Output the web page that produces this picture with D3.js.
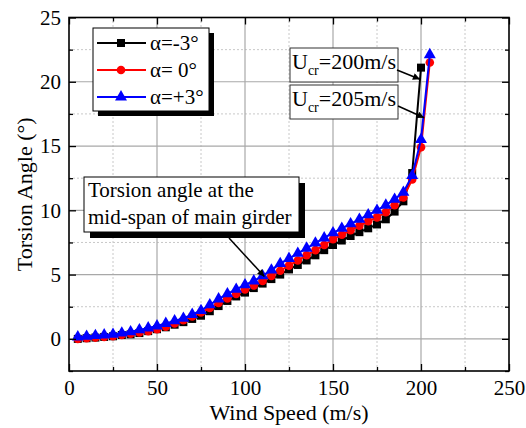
<!DOCTYPE html>
<html>
<head>
<meta charset="utf-8">
<script src="https://cdn.jsdelivr.net/npm/d3@7"></script>
<style>
  html, body { margin: 0; padding: 0; background: #fff; }
  svg { display: block; }
  svg text { font-family: 'Liberation Serif', 'Times New Roman', serif; fill: #000; }
</style>
</head>
<body>
<svg id="chart" width="526" height="428"></svg>
<script>
// Wind speed (m/s) sampled every 5 m/s
const speedsLong = [5,10,15,20,25,30,35,40,45,50,55,60,65,70,75,80,85,90,95,100,
  105,110,115,120,125,130,135,140,145,150,155,160,165,170,175,180,185,190,195,200,205];
const speedsShort = speedsLong.slice(0, 40); // α=-3° stops at 200 m/s

// Torsion angle (°) at mid-span of the main girder
const angleMinus3 = [0.0,0.05,0.1,0.15,0.2,0.3,0.35,0.45,0.6,0.75,0.9,1.1,1.3,1.55,1.8,2.15,2.55,2.95,3.3,3.6,
  3.95,4.3,4.65,5.0,5.4,5.75,6.1,6.5,6.9,7.3,7.65,8.0,8.3,8.6,8.9,9.3,9.9,10.7,12.9,21.1];
const angleZero = [0.0,0.05,0.1,0.15,0.2,0.3,0.4,0.5,0.6,0.75,0.95,1.2,1.45,1.75,2.05,2.4,2.8,3.15,3.5,3.85,
  4.15,4.5,4.9,5.3,5.7,6.1,6.5,6.9,7.3,7.75,8.1,8.45,8.8,9.15,9.45,9.85,10.4,11.0,12.4,14.9,21.5];
const anglePlus3 = [0.15,0.2,0.25,0.3,0.35,0.45,0.55,0.7,0.85,1.0,1.2,1.4,1.6,1.9,2.2,2.65,3.1,3.5,3.85,4.2,
  4.5,4.9,5.35,5.85,6.25,6.65,7.05,7.45,7.85,8.25,8.6,8.95,9.3,9.65,10.0,10.4,10.85,11.4,12.7,15.5,22.1];

const seriesNames = ["α=-3°", "α= 0°", "α=+3°"];
const xTicks = [0, 50, 100, 150, 200, 250];
const xMinor = [25, 75, 125, 175, 225];
const yTicks = [0, 5, 10, 15, 20, 25];
const yMinor = [-2.5, 2.5, 7.5, 12.5, 17.5, 22.5];

const series = [
  { name: seriesNames[0], xs: speedsShort, ys: angleMinus3, color: "#000000", shape: d3.symbolSquare, size: 64 },
  { name: seriesNames[1], xs: speedsLong, ys: angleZero, color: "#ff0000", shape: d3.symbolCircle, size: 58 },
  { name: seriesNames[2], xs: speedsLong, ys: anglePlus3, color: "#0000ff", shape: d3.symbolTriangle, size: 62 }
];

const svg = d3.select("#chart");
const margin = { left: 69, right: 17, top: 17.5, bottom: 57 };
const W = 526, H = 428;
const x = d3.scaleLinear().domain([0, 250]).range([margin.left, W - margin.right]);
const y = d3.scaleLinear().domain([-2.5, 25]).range([H - margin.bottom, margin.top]);

// grid
const grid = svg.append("g");
grid.selectAll(".gxm").data(xMinor).join("line")
  .attr("x1", d => x(d)).attr("x2", d => x(d)).attr("y1", y.range()[0]).attr("y2", y.range()[1])
  .attr("stroke", "#c8c8c8").attr("stroke-width", 1).attr("stroke-dasharray", "2,2");
grid.selectAll(".gym").data(yMinor.slice(1)).join("line")
  .attr("y1", d => y(d)).attr("y2", d => y(d)).attr("x1", x.range()[0]).attr("x2", x.range()[1])
  .attr("stroke", "#c8c8c8").attr("stroke-width", 1).attr("stroke-dasharray", "2,2");
grid.selectAll(".gx").data(xTicks.slice(1, -1)).join("line")
  .attr("x1", d => x(d)).attr("x2", d => x(d)).attr("y1", y.range()[0]).attr("y2", y.range()[1])
  .attr("stroke", "#a8a8a8").attr("stroke-width", 1.2);
grid.selectAll(".gy").data(yTicks.slice(0, -1)).join("line")
  .attr("y1", d => y(d)).attr("y2", d => y(d)).attr("x1", x.range()[0]).attr("x2", x.range()[1])
  .attr("stroke", "#a8a8a8").attr("stroke-width", 1.2);

// series lines and markers
series.forEach(s => {
  const pts = s.xs.map((v, i) => [v, s.ys[i]]);
  svg.append("path").datum(pts)
    .attr("fill", "none").attr("stroke", s.color).attr("stroke-width", 2)
    .attr("d", d3.line().x(d => x(d[0])).y(d => y(d[1])));
  svg.append("g").selectAll("path").data(pts).join("path")
    .attr("transform", d => `translate(${x(d[0])},${y(d[1])})`)
    .attr("d", d3.symbol().type(s.shape).size(s.size))
    .attr("fill", s.color);
});

// axes
const fontSize = 21;
function styleAxis(g) {
  g.attr("font-family", null).attr("font-size", null);
  g.select(".domain").remove();
  g.selectAll("line").attr("stroke", "#000").attr("stroke-width", 1.3);
  g.selectAll("text").attr("font-size", fontSize).attr("fill", "#000");
}
const xb = y.range()[0], xt = y.range()[1], yl = x.range()[0], yr = x.range()[1];
svg.append("g").attr("transform", `translate(0,${xb})`)
  .call(d3.axisBottom(x).tickValues(xTicks).tickSize(-7).tickPadding(9).tickFormat(d3.format("d")))
  .call(styleAxis);
svg.append("g").attr("transform", `translate(0,${xb})`)
  .call(d3.axisBottom(x).tickValues(xMinor).tickSize(-4).tickFormat("")).call(styleAxis);
svg.append("g").attr("transform", `translate(0,${xt})`)
  .call(d3.axisTop(x).tickValues(xTicks).tickSize(-7).tickFormat("")).call(styleAxis);
svg.append("g").attr("transform", `translate(0,${xt})`)
  .call(d3.axisTop(x).tickValues(xMinor).tickSize(-4).tickFormat("")).call(styleAxis);
svg.append("g").attr("transform", `translate(${yl},0)`)
  .call(d3.axisLeft(y).tickValues(yTicks).tickSize(-7).tickPadding(8).tickFormat(d3.format("d")))
  .call(styleAxis);
svg.append("g").attr("transform", `translate(${yl},0)`)
  .call(d3.axisLeft(y).tickValues(yMinor).tickSize(-4).tickFormat("")).call(styleAxis);
svg.append("g").attr("transform", `translate(${yr},0)`)
  .call(d3.axisRight(y).tickValues(yTicks).tickSize(-7).tickFormat("")).call(styleAxis);
svg.append("g").attr("transform", `translate(${yr},0)`)
  .call(d3.axisRight(y).tickValues(yMinor).tickSize(-4).tickFormat("")).call(styleAxis);

// frame
svg.append("rect")
  .attr("x", yl).attr("y", xt).attr("width", yr - yl).attr("height", xb - xt)
  .attr("fill", "none").attr("stroke", "#000").attr("stroke-width", 1.6);

// axis titles
svg.append("text").attr("x", (yl + yr) / 2).attr("y", 420)
  .attr("text-anchor", "middle").attr("font-size", 22).text("Wind Speed (m/s)");
svg.append("text").attr("transform", `translate(32,${(xt + xb) / 2}) rotate(-90)`)
  .attr("text-anchor", "middle").attr("font-size", 22).text("Torsion Angle (°)");

// legend
const leg = svg.append("g").attr("transform", "translate(93,28)");
leg.append("rect").attr("x", 5).attr("y", 5).attr("width", 116).attr("height", 83).attr("fill", "#000");
leg.append("rect").attr("width", 116).attr("height", 83).attr("fill", "#fff")
  .attr("stroke", "#000").attr("stroke-width", 1);
series.forEach((s, i) => {
  const row = leg.append("g").attr("transform", `translate(0,${15 + i * 27})`);
  row.append("line").attr("x1", 4).attr("x2", 53).attr("stroke", s.color).attr("stroke-width", 2);
  row.append("path").attr("transform", "translate(28,0)")
    .attr("d", d3.symbol().type(s.shape).size(s.size)).attr("fill", s.color);
  row.append("text").attr("x", 57).attr("y", 7).attr("font-size", fontSize).text(s.name);
});

// arrowhead
svg.append("defs").append("marker")
  .attr("id", "arrow").attr("viewBox", "0 0 10 10").attr("refX", 10).attr("refY", 5)
  .attr("markerWidth", 10).attr("markerHeight", 7).attr("markerUnits", "userSpaceOnUse")
  .attr("orient", "auto")
  .append("path").attr("d", "M0,0 L10,5 L0,10 Z").attr("fill", "#000");

function arrow(x1, y1, tip) {
  svg.append("line").attr("x1", x1).attr("y1", y1)
    .attr("x2", x(tip[0])).attr("y2", y(tip[1]))
    .attr("stroke", "#000").attr("stroke-width", 1.5).attr("marker-end", "url(#arrow)");
}

// mid-span note
const note = svg.append("g").attr("transform", "translate(84,177)");
note.append("rect").attr("x", 6).attr("y", 6).attr("width", 215).attr("height", 55).attr("fill", "#000");
note.append("rect").attr("width", 215).attr("height", 55).attr("fill", "#fff")
  .attr("stroke", "#000").attr("stroke-width", 1);
note.append("text").attr("x", 4).attr("y", 20).attr("font-size", fontSize).text("Torsion angle at the");
note.append("text").attr("x", 4).attr("y", 47).attr("font-size", fontSize).text("mid-span of main girder");
arrow(229, 238, [111, 4.85]);

// critical speed notes
function ucrBox(top, value) {
  const g = svg.append("g").attr("transform", `translate(290,${top})`);
  g.append("rect").attr("width", 108).attr("height", 34).attr("fill", "#fff")
    .attr("stroke", "#333").attr("stroke-width", 1);
  const t = g.append("text").attr("x", 2).attr("y", 21).attr("font-size", 22);
  t.append("tspan").text("U");
  t.append("tspan").attr("font-size", 14).attr("dy", 6).text("cr");
  t.append("tspan").attr("dy", -6).text(`=${value}m/s`);
}
ucrBox(48, 200);
ucrBox(85, 205);
arrow(397, 70, [199.4, 20.2]);
arrow(398, 106, [201.8, 17.2]);
</script>
</body>
</html>
